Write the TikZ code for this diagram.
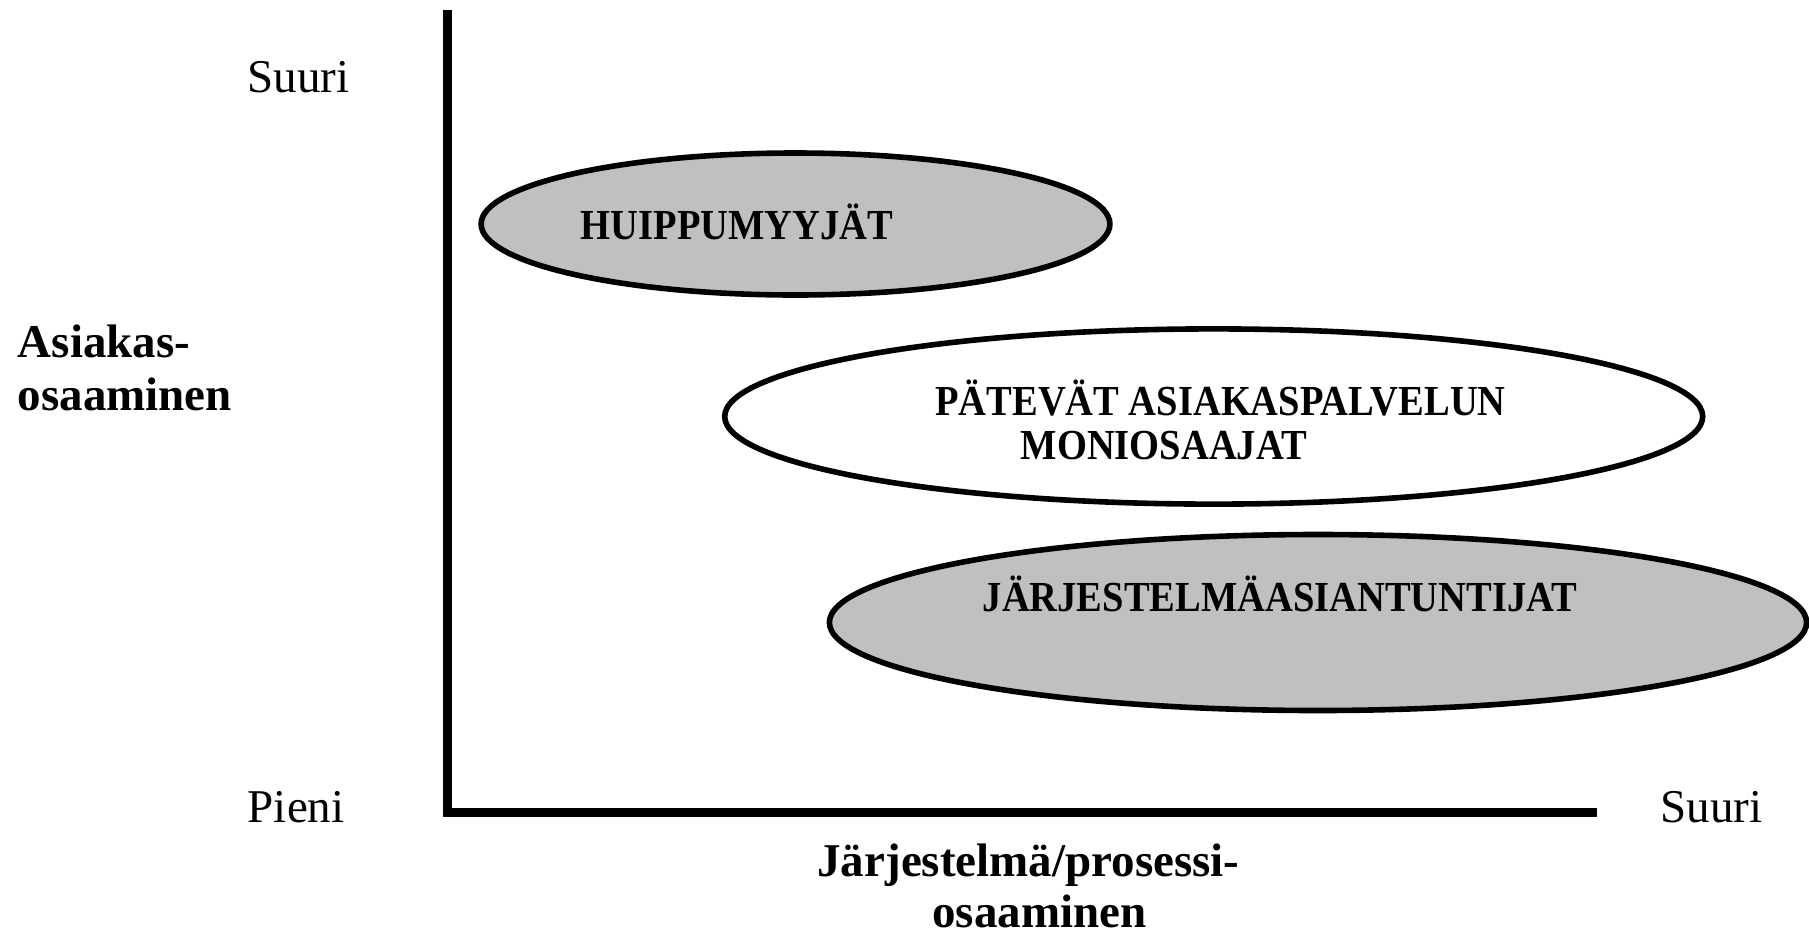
\documentclass[tikz,border=0pt]{standalone}
\usepackage{fontspec}
\setmainfont{Liberation Serif}
\newfontfamily\blobfont{Liberation Serif}[FakeStretch=0.9]
\usetikzlibrary{positioning}

\definecolor{silver}{HTML}{C0C0C0}

\tikzset{
    axis/.style={line width=2.25pt},
    group/.style={draw=black, line width=1.4pt},
    graygroup/.style={group, fill=silver},
    scalelabel/.style={inner sep=0pt, anchor=base west, font=\fontsize{11.75}{13.25}\selectfont},
    axislabel/.style={inner sep=0pt, font=\fontsize{11.75}{13.25}\selectfont\bfseries},
    grouplabel/.style={inner sep=0pt, anchor=base west, font=\fontsize{10.7}{11}\selectfont\blobfont\bfseries}
}

\begin{document}
\begin{tikzpicture}[x=0.25pt, y=-0.25pt]
    \useasboundingbox (0,0) rectangle (1809,933);

    % groups
    \filldraw[graygroup] (795.5,224) ellipse [x radius=78.6pt, y radius=17.75pt];
    \draw[group, fill=white] (1213.7,416.5) ellipse [x radius=122.25pt, y radius=21.9pt];
    \filldraw[graygroup] (1318,622.5) ellipse [x radius=122.15pt, y radius=22pt];

    \node[grouplabel] (top) at (580,239) {HUIPPUMYYJÄT};
    \node[grouplabel] (multi) at (934.5,415) {PÄTEVÄT ASIAKASPALVELUN};
    \node[grouplabel] (multib) at (1020,459) {MONIOSAAJAT};
    \node[grouplabel] (system) at (982,611.5) {JÄRJESTELMÄASIANTUNTIJAT};

    % axes
    \coordinate (origin) at (447.5,812.5);
    \coordinate (ytop) at (447.5,10);
    \coordinate (xend) at (1597,812.5);
    \draw[axis] (ytop) -- (origin |- 0,817);
    \draw[axis] (443,812.5) -- (xend);

    \node[scalelabel] (ymax) at (247,92) {Suuri};
    \node[scalelabel] (low) at (247,822.6) {Pieni};
    \node[scalelabel] (xmax) at (1660,822) {Suuri};

    \node[axislabel, anchor=base west] (ylab) at (17,357) {Asiakas-};
    \node[axislabel, anchor=base west] (ylabb) at (17,410) {osaaminen};
    \node[axislabel, anchor=base] (xlab) at (1028.5,876) {Järjestelmä/prosessi-};
    \node[axislabel, anchor=base] (xlabb) at (1039.5,927) {osaaminen};
\end{tikzpicture}
\end{document}
